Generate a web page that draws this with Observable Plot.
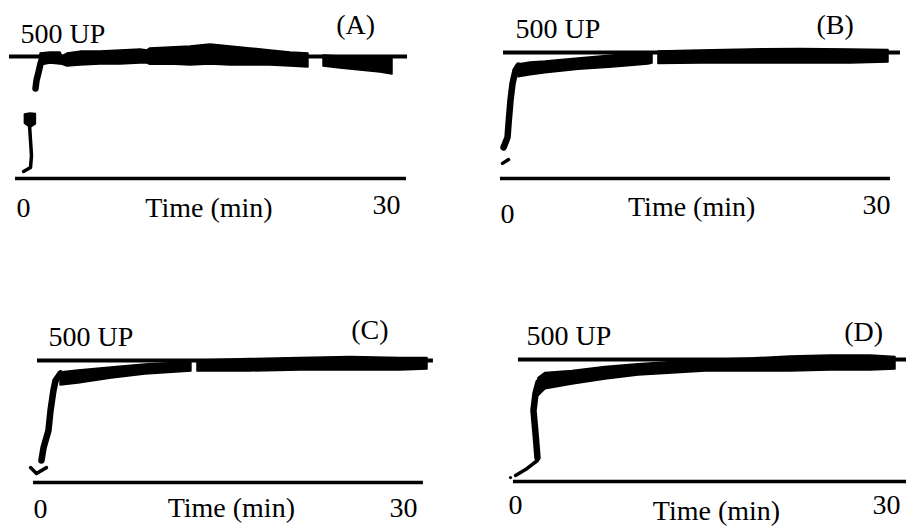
<!DOCTYPE html>
<html><head><meta charset="utf-8">
<script src="https://cdn.jsdelivr.net/npm/d3@7"></script>
<script src="https://cdn.jsdelivr.net/npm/@observablehq/plot@0.6"></script>
<style>
html,body{margin:0;padding:0;background:#fff;}
#wrap{position:relative;width:906px;height:526px;overflow:hidden;background:#fff;}
#wrap svg{position:absolute;overflow:visible;}
</style></head><body><div id="wrap"></div>
<script>
// ---- text ----
const panelLabels = ["(A)", "(B)", "(C)", "(D)"];
const refLabel = "500 UP";
const tickLabels = [0, 30];
const axisTitle = "Time (min)";

// ---- traces: [time (min), consistency (UP)] and bands [time, lower, upper] ----
const lowA = [[-0.16, 29], [0.41, 45], [0.49, 94], [0.41, 156], [0.33, 217], [0.25, 250]];
const blobA = [[-0.05, 225, 262], [0.4, 208, 266], [0.85, 222, 264]];
const riseA = [[0.82, 369], [0.9, 402], [1.06, 434], [1.23, 471], [1.39, 496]];
const bandA = [[1.23, 463, 512], [2.04, 471, 516], [2.86, 467, 516], [3.02, 466, 500], [3.43, 459, 512],
  [4.5, 463, 520], [6.13, 467, 520], [7.77, 467, 525], [9.4, 471, 529], [9.97, 471, 525], [10.2, 466, 533],
  [11.85, 467, 537], [13.49, 463, 541], [15.12, 467, 549], [16.76, 463, 541], [18.39, 463, 533],
  [20.03, 463, 525], [21.66, 459, 516], [23.13, 455, 512], [NaN, NaN, NaN],
  [24.36, 459, 504], [25.75, 451, 500], [27.38, 443, 496], [29.02, 434, 496], [30, 426, 496]];

const dashB = [[0, 60], [0.47, 75]];
const riseB = [[0.08, 123], [0.39, 163], [0.47, 218], [0.62, 310], [0.78, 377], [1.01, 429], [1.24, 448]];
const bandB = [[1.24, 402, 452], [2.18, 410, 460], [3.34, 418, 464], [5.91, 432, 476], [8.55, 440, 488],
  [11.34, 452, 498], [11.66, 456, 498], [NaN, NaN, NaN], [12.12, 454, 504], [15.38, 456, 508],
  [19.27, 456, 512], [23.15, 456, 514], [27.04, 456, 512], [30, 460, 510]];

const dashC = [[-0.15, 61], [0.3, 37], [1.06, 61]];
const riseC = [[0.68, 90], [0.84, 143], [1.21, 213], [1.37, 295], [1.59, 377], [1.75, 418], [2.13, 447]];
const bandC = [[2.13, 398, 451], [3.49, 406, 459], [6.0, 426, 471], [8.58, 443, 484], [12.07, 455, 494],
  [NaN, NaN, NaN], [12.53, 455, 500], [16.55, 455, 506], [20.35, 459, 510], [24.15, 459, 514],
  [27.94, 459, 510], [30, 463, 510]];

const dotD = [[0, 16]];
const dashD = [[0.39, 25], [1.17, 49], [2.1, 86]];
const riseD = [[2.1, 98], [1.95, 197], [1.79, 291], [1.95, 361], [2.18, 406], [2.73, 434]];
const bandD = [[2.18, 350, 424], [2.73, 378, 445], [4.83, 398, 453], [7.4, 418, 469], [9.98, 434, 481],
  [12.63, 443, 490], [15.2, 451, 498], [18.71, 451, 504], [21.82, 451, 512], [24.94, 455, 516],
  [28.06, 455, 516], [30, 459, 510]];

// ---- layout (pixels / offsets) ----
const FS = 28;
const FONT = "'Liberation Serif','Times New Roman',serif";
const panels = [
  {label: panelLabels[0], left: 0, top: 0, xr: [25, 392], yr: [178, 56],
   topX: [-1.31, 31.23], botX: [-0.82, 31.14],
   thin: [lowA], thick: [riseA], bands: [bandA, blobA], dots: [],
   refT: -0.41, refDy: -14, labT: 25.4, labDy: -23,
   tick0: {dx: -2, dy: 38}, tick30: {dx: -6, dy: 35}, titleT: 15, titleDy: 38},
  {label: panelLabels[1], left: 453, top: 0, xr: [49, 435], yr: [178, 52],
   topX: [0.08, 30.93], botX: [-0.16, 30.15],
   thin: [dashB], thick: [riseB], bands: [bandB], dots: [],
   refT: 1.01, refDy: -15, labT: 24.4, labDy: -19,
   tick0: {dx: 5, dy: 44}, tick30: {dx: -12, dy: 35}, titleT: 14.7, titleDy: 37},
  {label: panelLabels[2], left: 0, top: 263, xr: [32, 427], yr: [219, 97],
   topX: [0.38, 30.45], botX: [0.08, 29.69],
   thin: [dashC], thick: [riseC], bands: [bandC], dots: [],
   refT: 1.21, refDy: -15, labT: 24.2, labDy: -22,
   tick0: {dx: 8, dy: 35}, tick30: {dx: -24, dy: 34}, titleT: 15.1, titleDy: 34},
  {label: panelLabels[3], left: 453, top: 263, xr: [57, 442], yr: [218, 96],
   topX: [0.62, 31.5], botX: [0.23, 31.5],
   thin: [dashD], thick: [riseD], bands: [bandD], dots: [dotD],
   refT: 1.25, refDy: -15, labT: 26.0, labDy: -19,
   tick0: {dx: 5, dy: 32}, tick30: {dx: -9, dy: 32}, titleT: 16.05, titleDy: 38}
];

const mid = (b) => b - 0.32 * FS; // baseline offset -> middle-anchored dy
const wrap = document.getElementById("wrap");

for (const p of panels) {
  const txt = {fontFamily: FONT, fontSize: FS, fill: "#000", lineAnchor: "middle"};
  const marks = [
    Plot.ruleY([500], {x1: () => p.topX[0], x2: () => p.topX[1], stroke: "#000", strokeWidth: 4}),
    Plot.ruleY([0], {x1: () => p.botX[0], x2: () => p.botX[1], stroke: "#000", strokeWidth: 3.5}),
    ...p.bands.map(b => Plot.areaY(b, {x: d => d[0], y1: d => d[1], y2: d => d[2], fill: "#000", stroke: "#000", strokeWidth: 1.5, strokeLinejoin: "round"})),
    ...p.thin.map(l => Plot.line(l, {x: d => d[0], y: d => d[1], stroke: "#000", strokeWidth: 3.5, strokeLinecap: "round", strokeLinejoin: "round"})),
    ...p.thick.map(l => Plot.line(l, {x: d => d[0], y: d => d[1], stroke: "#000", strokeWidth: 6.5, strokeLinecap: "round", strokeLinejoin: "round"})),
    ...p.dots.map(l => Plot.dot(l, {x: d => d[0], y: d => d[1], r: 1.6, fill: "#000", stroke: null})),
    Plot.text([refLabel], {x: () => p.refT, y: () => 500, text: d => d, textAnchor: "start", dy: mid(p.refDy), ...txt}),
    Plot.text([p.label], {x: () => p.labT, y: () => 500, text: d => d, textAnchor: "start", dy: mid(p.labDy), ...txt}),
    Plot.text([tickLabels[0]], {x: d => d, y: () => 0, text: d => String(d), dx: p.tick0.dx, dy: mid(p.tick0.dy), ...txt}),
    Plot.text([tickLabels[1]], {x: d => d, y: () => 0, text: d => String(d), dx: p.tick30.dx, dy: mid(p.tick30.dy), ...txt}),
    Plot.text([axisTitle], {x: () => p.titleT, y: () => 0, text: d => d, dy: mid(p.titleDy), ...txt})
  ];
  const svg = Plot.plot({
    width: 453, height: 263, margin: 0,
    x: {domain: [0, 30], range: p.xr, axis: null},
    y: {domain: [0, 500], range: p.yr, axis: null},
    style: {background: "transparent", overflow: "visible"},
    marks
  });
  svg.style.left = p.left + "px";
  svg.style.top = p.top + "px";
  wrap.appendChild(svg);
}
</script>
</body></html>
